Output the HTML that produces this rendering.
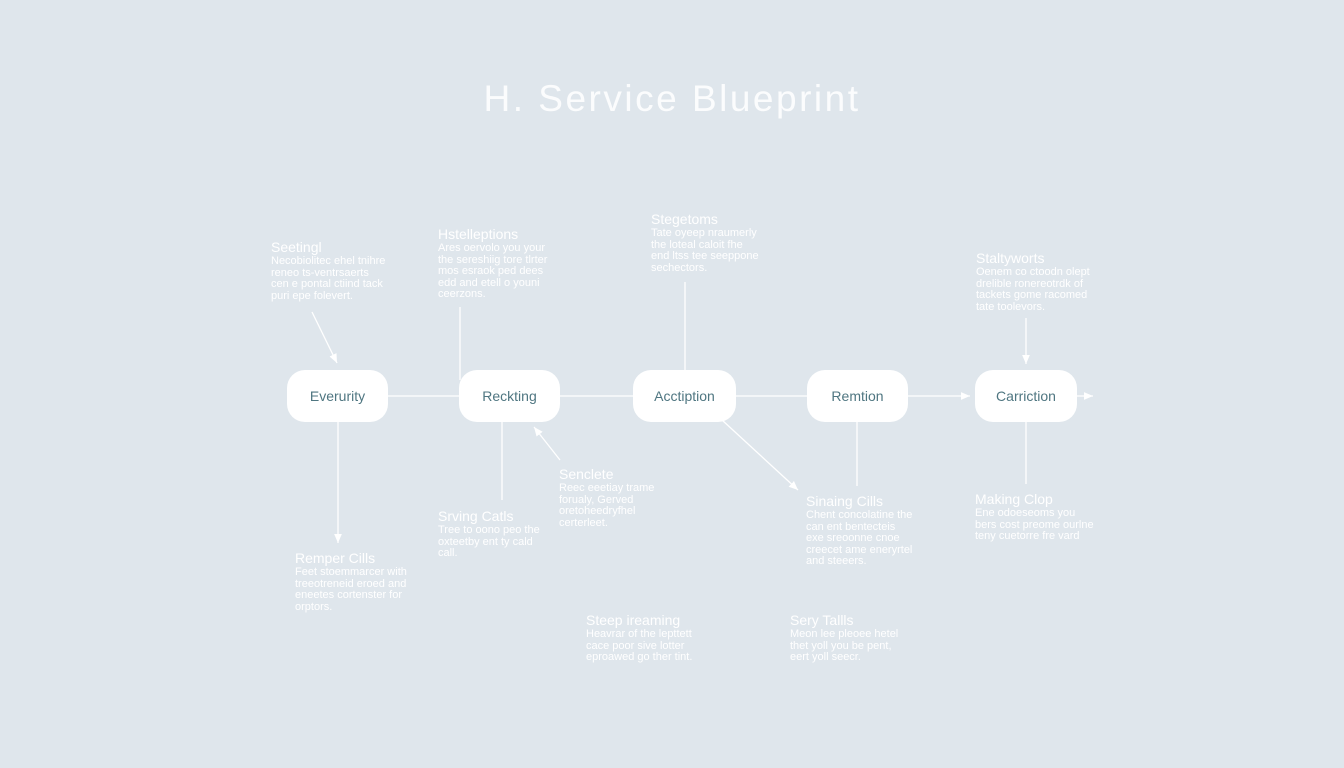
<!DOCTYPE html>
<html><head><meta charset="utf-8"><style>
body{margin:0;width:1344px;height:768px;background:#dfe6ec;font-family:"Liberation Sans",sans-serif;position:relative;overflow:hidden;color:#fff}
.t{position:absolute;left:0;width:1344px;top:78px;text-align:center;font-size:37px;letter-spacing:2.5px;color:#fbfcfd}
.n{position:absolute;top:370px;height:52px;background:#fff;border-radius:18px;color:#4f7681;font-size:14px;line-height:52px;text-align:center}
.l{position:absolute;font-size:11px;line-height:11.5px;color:#fff;white-space:nowrap}
.l b{display:block;font-weight:normal;font-size:14px;line-height:18px}
svg{position:absolute;left:0;top:0}
</style></head><body>
<div class="t">H. Service Blueprint</div>
<svg width="1344" height="768" stroke="#fff" stroke-width="1.3" fill="none">
<defs><marker id="a" markerWidth="8" markerHeight="8" refX="7" refY="4" orient="auto"><path d="M0,1L7,4L0,7z" fill="#fff" stroke="none"/></marker></defs>
<line x1="388" y1="396" x2="459" y2="396"/>
<line x1="560" y1="396" x2="633" y2="396"/>
<line x1="736" y1="396" x2="807" y2="396"/>
<line x1="908" y1="396" x2="970" y2="396" marker-end="url(#a)"/>
<line x1="1077" y1="396" x2="1093" y2="396" marker-end="url(#a)"/>
<line x1="312" y1="312" x2="337" y2="363" marker-end="url(#a)"/>
<line x1="460" y1="307" x2="460" y2="380"/>
<line x1="685" y1="282" x2="685" y2="370"/>
<line x1="1026" y1="318" x2="1026" y2="364" marker-end="url(#a)"/>
<line x1="338" y1="422" x2="338" y2="543" marker-end="url(#a)"/>
<line x1="502" y1="422" x2="502" y2="500"/>
<line x1="560" y1="460" x2="534" y2="427" marker-end="url(#a)"/>
<line x1="722" y1="420" x2="798" y2="490" marker-end="url(#a)"/>
<line x1="857" y1="422" x2="857" y2="486"/>
<line x1="1026" y1="422" x2="1026" y2="484"/>
</svg>
<div class="n" style="left:287px;width:101px">Everurity</div>
<div class="n" style="left:459px;width:101px">Reckting</div>
<div class="n" style="left:633px;width:103px">Acctiption</div>
<div class="n" style="left:807px;width:101px">Remtion</div>
<div class="n" style="left:975px;width:102px">Carriction</div>
<div class="l" style="left:271px;top:238px"><b>Seetingl</b>Necobiolitec ehel tnihre<br>reneo ts-ventrsaerts<br>cen e pontal ctiind tack<br>puri epe folevert.</div>
<div class="l" style="left:438px;top:225px"><b>Hstelleptions</b>Ares oervolo you your<br>the sereshiig tore tlrter<br>mos esraok ped dees<br>edd and etell o youni<br>ceerzons.</div>
<div class="l" style="left:651px;top:210px"><b>Stegetoms</b>Tate oyeep nraumerly<br>the loteal caloit fhe<br>end ltss tee seeppone<br>sechectors.</div>
<div class="l" style="left:976px;top:249px"><b>Staltyworts</b>Oenem co ctoodn olept<br>drelible ronereotrdk of<br>tackets gome racomed<br>tate toolevors.</div>
<div class="l" style="left:559px;top:465px"><b>Senclete</b>Reec eeetiay trame<br>forualy, Gerved<br>oretoheedryfhel<br>certerleet.</div>
<div class="l" style="left:438px;top:507px"><b>Srving Catls</b>Tree to oono peo the<br>oxteetby ent ty cald<br>call.</div>
<div class="l" style="left:806px;top:492px"><b>Sinaing Cills</b>Chent concolatine the<br>can ent bentecteis<br>exe sreoonne cnoe<br>creecet ame eneryrtel<br>and steeers.</div>
<div class="l" style="left:975px;top:490px"><b>Making Clop</b>Ene odoeseoms you<br>bers cost preome ourlne<br>teny cuetorre fre vard</div>
<div class="l" style="left:295px;top:549px"><b>Remper Cills</b>Feet stoemmarcer with<br>treeotreneid eroed and<br>eneetes cortenster for<br>orptors.</div>
<div class="l" style="left:586px;top:611px"><b>Steep ireaming</b>Heavrar of the lepttett<br>cace poor sive lotter<br>eproawed go ther tint.</div>
<div class="l" style="left:790px;top:611px"><b>Sery Tallls</b>Meon lee pleoee hetel<br>thet yoll you be pent,<br>eert yoll seecr.</div>
</body></html>
